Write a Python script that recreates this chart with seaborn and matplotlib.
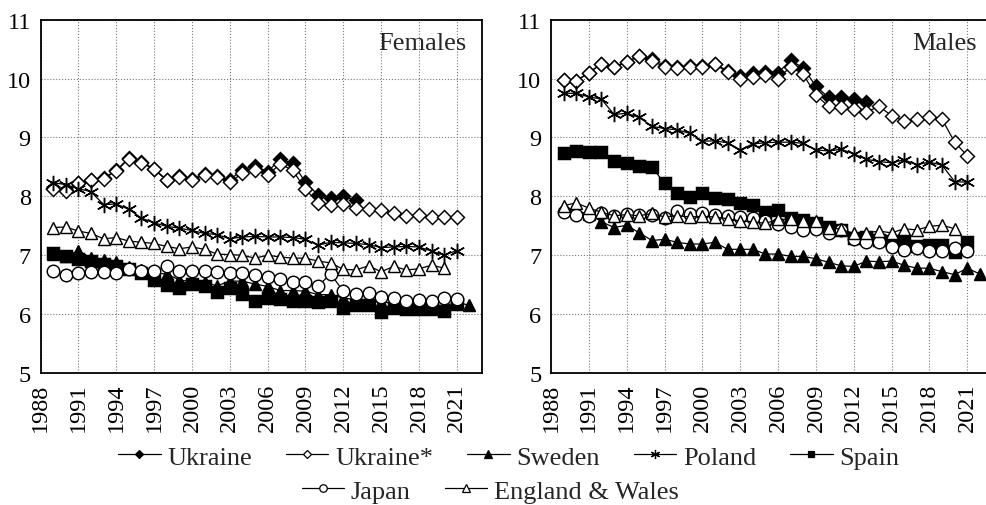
import matplotlib
matplotlib.use("Agg")
import matplotlib.pyplot as plt
from matplotlib.lines import Line2D
import seaborn as sns

# Data
years_ukr = list(range(1989, 2014))
years_main = list(range(1989, 2022))
years_ew = list(range(1989, 2021))
years_swe = list(range(1989, 2023))

# Females
ukr_f = [8.15, 8.10, 8.22, 8.27, 8.31, 8.44, 8.65, 8.58, 8.47, 8.28, 8.34, 8.29, 8.38,
         8.34, 8.28, 8.45, 8.52, 8.42, 8.63, 8.56, 8.24, 8.02, 7.98, 8.00, 7.93]
ukrs_f = [8.13, 8.09, 8.22, 8.27, 8.30, 8.43, 8.64, 8.57, 8.46, 8.27, 8.33, 8.27, 8.37,
          8.33, 8.24, 8.39, 8.45, 8.36, 8.55, 8.44, 8.12, 7.89, 7.85, 7.87, 7.80, 7.78,
          7.77, 7.71, 7.66, 7.69, 7.65, 7.65, 7.65]
swe_f = [7.02, 6.98, 7.08, 6.95, 6.92, 6.88, 6.80, 6.75, 6.70, 6.68, 6.58, 6.55, 6.54,
         6.48, 6.56, 6.56, 6.51, 6.47, 6.40, 6.40, 6.39, 6.33, 6.33, 6.27, 6.25, 6.22,
         6.20, 6.19, 6.17, 6.17, 6.16, 6.14, 6.20, 6.15]
pol_f = [8.23, 8.20, 8.13, 8.08, 7.86, 7.87, 7.78, 7.63, 7.55, 7.49, 7.46, 7.42, 7.37,
         7.35, 7.28, 7.31, 7.32, 7.31, 7.31, 7.30, 7.27, 7.17, 7.22, 7.21, 7.20, 7.18,
         7.13, 7.14, 7.15, 7.14, 7.07, 7.00, 7.08]
spa_f = [7.04, 6.99, 6.94, 6.91, 6.85, 6.81, 6.76, 6.70, 6.58, 6.50, 6.45, 6.51, 6.47,
         6.38, 6.45, 6.34, 6.23, 6.27, 6.26, 6.23, 6.22, 6.21, 6.23, 6.11, 6.16, 6.16,
         6.04, 6.10, 6.08, 6.08, 6.09, 6.05, 6.17]
jpn_f = [6.74, 6.66, 6.70, 6.71, 6.71, 6.69, 6.76, 6.74, 6.74, 6.81, 6.73, 6.74, 6.73,
         6.72, 6.70, 6.70, 6.66, 6.63, 6.59, 6.55, 6.54, 6.48, 6.68, 6.39, 6.34, 6.36,
         6.29, 6.28, 6.22, 6.24, 6.23, 6.28, 6.25]
ew_f = [7.47, 7.48, 7.41, 7.37, 7.28, 7.30, 7.24, 7.22, 7.20, 7.15, 7.11, 7.14, 7.10,
        7.02, 7.01, 7.00, 6.95, 7.00, 6.97, 6.95, 6.95, 6.90, 6.87, 6.76, 6.75, 6.82,
        6.72, 6.81, 6.75, 6.77, 6.83, 6.78]

# Males
ukr_m = [9.98, 9.96, 10.10, 10.25, 10.20, 10.29, 10.38, 10.34, 10.22, 10.19, 10.21,
         10.21, 10.25, 10.13, 10.05, 10.10, 10.12, 10.10, 10.31, 10.18, 9.87, 9.68,
         9.68, 9.65, 9.61]
ukrs_m = [9.97, 9.96, 10.10, 10.25, 10.19, 10.28, 10.38, 10.30, 10.20, 10.18, 10.20,
          10.19, 10.24, 10.11, 10.00, 10.02, 10.06, 10.00, 10.20, 10.07, 9.72, 9.53,
          9.51, 9.48, 9.43, 9.53, 9.37, 9.28, 9.32, 9.34, 9.31, 8.92, 8.69]
swe_m = [7.80, 7.75, 7.70, 7.57, 7.47, 7.51, 7.38, 7.25, 7.27, 7.22, 7.19, 7.19, 7.22,
         7.10, 7.10, 7.10, 7.02, 7.02, 6.98, 6.98, 6.94, 6.88, 6.82, 6.81, 6.90, 6.89,
         6.90, 6.83, 6.78, 6.78, 6.72, 6.67, 6.78, 6.68]
pol_m = [9.75, 9.75, 9.69, 9.65, 9.39, 9.41, 9.34, 9.19, 9.15, 9.13, 9.07, 8.94, 8.94,
         8.91, 8.79, 8.89, 8.91, 8.92, 8.92, 8.90, 8.79, 8.77, 8.80, 8.72, 8.63, 8.59,
         8.57, 8.62, 8.54, 8.58, 8.53, 8.25, 8.24]
spa_m = [8.74, 8.77, 8.75, 8.75, 8.60, 8.56, 8.52, 8.50, 8.22, 8.05, 7.99, 8.05, 7.97,
         7.95, 7.89, 7.85, 7.74, 7.76, 7.64, 7.60, 7.55, 7.48, 7.42, 7.30, 7.31, 7.26,
         7.25, 7.24, 7.15, 7.17, 7.17, 7.06, 7.22]
jpn_m = [7.73, 7.68, 7.67, 7.71, 7.66, 7.70, 7.68, 7.69, 7.63, 7.75, 7.70, 7.71, 7.68,
         7.66, 7.65, 7.64, 7.58, 7.53, 7.48, 7.43, 7.45, 7.38, 7.43, 7.27, 7.22, 7.22,
         7.14, 7.09, 7.12, 7.07, 7.07, 7.12, 7.08]
ew_m = [7.84, 7.89, 7.80, 7.73, 7.67, 7.69, 7.67, 7.71, 7.65, 7.67, 7.65, 7.66, 7.65,
        7.62, 7.58, 7.57, 7.54, 7.61, 7.61, 7.58, 7.58, 7.47, 7.44, 7.37, 7.38, 7.41,
        7.38, 7.45, 7.43, 7.49, 7.51, 7.45]

labels = ["Ukraine", "Ukraine*", "Sweden", "Poland", "Spain", "Japan", "England & Wales"]
years = [years_ukr, years_main, years_swe, years_main, years_main, years_main, years_ew]
females = [ukr_f, ukrs_f, swe_f, pol_f, spa_f, jpn_f, ew_f]
males = [ukr_m, ukrs_m, swe_m, pol_m, spa_m, jpn_m, ew_m]

# marker, face colour, size
styles = [("D", "black", 6.8), ("D", "white", 6.8), ("^", "black", 9),
          ((6, 2, 0), "black", 11), ("s", "black", 8.3), ("o", "white", 9),
          ("^", "white", 9)]

sns.set_style("white")
plt.rcParams["font.family"] = ["Liberation Serif", "DejaVu Serif"]

fig = plt.figure(figsize=(9.86, 5.06), dpi=100)
ax_f = fig.add_axes([0.0411, 0.2609, 0.4478, 0.6982])
ax_m = fig.add_axes([0.5588, 0.2609, 0.4478, 0.6982])


def draw_panel(ax, data, title):
    for yrs, vals, (mk, fc, ms) in zip(years, data, styles):
        sns.lineplot(x=yrs, y=vals, ax=ax, color="black", linewidth=0.9,
                     marker=mk, markersize=ms, markerfacecolor=fc,
                     markeredgecolor="black", markeredgewidth=1.05)
    ax.set_xlim(1988, 2023)
    ax.set_ylim(5, 11)
    ax.set_xticks(range(1988, 2022, 3))
    ax.set_yticks(range(5, 12))
    ax.tick_params(axis="x", labelrotation=90, pad=7)
    ax.tick_params(axis="y", pad=7)
    ax.tick_params(direction="in", length=5, width=1, labelsize=17.5,
                   colors="black")
    ax.grid(True, linestyle=":", color="#777777", linewidth=0.8)
    for sp in ax.spines.values():
        sp.set_color("black")
        sp.set_linewidth(1.3)
    ax.text(0.965, 0.965, title, transform=ax.transAxes, ha="right", va="top",
            fontsize=19)
    if ax.get_legend():
        ax.get_legend().remove()


draw_panel(ax_f, females, "Females")
draw_panel(ax_m, males, "Males")

handles = [Line2D([], [], color="black", linewidth=0.9, marker=mk, markersize=ms * 0.6,
                  markerfacecolor=fc, markeredgecolor="black", markeredgewidth=0.9)
           for mk, fc, ms in styles]

leg_kw = dict(frameon=False, fontsize=19, handlelength=1.6, handletextpad=0.25,
              columnspacing=1.3, borderaxespad=0, borderpad=0)
fig.legend(handles[:5], labels[:5], loc="center", bbox_to_anchor=(0.516, 0.095),
           ncol=5, **leg_kw)
fig.legend(handles[5:], labels[5:], loc="center", bbox_to_anchor=(0.497, 0.028),
           ncol=2, **leg_kw)

fig.savefig("out.png", dpi=100)
